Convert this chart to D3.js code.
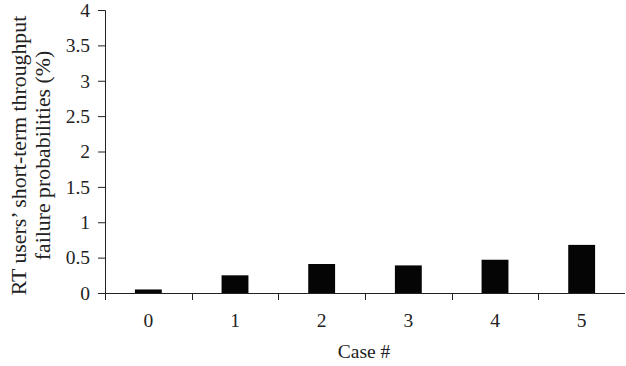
<!DOCTYPE html>
<html>
<head>
<meta charset="utf-8">
<script src="https://cdn.jsdelivr.net/npm/d3@7"></script>
<style>
  body { margin: 0; background: #fff; }
  text { font-family: "Liberation Serif", "Times New Roman", serif; fill: #222; }
</style>
</head>
<body>
<svg id="chart" width="626" height="366"></svg>
<script>
var cases = ["0", "1", "2", "3", "4", "5"];
var failProb = [0.05, 0.25, 0.41, 0.39, 0.47, 0.68];
var yTicks = [0, 0.5, 1, 1.5, 2, 2.5, 3, 3.5, 4];

var margin = {top: 10, right: 1, bottom: 73, left: 105},
  width = 626 - margin.left - margin.right,
  height = 366 - margin.top - margin.bottom;

var svg = d3.select("#chart")
  .append("g")
  .attr("transform", "translate(" + margin.left + "," + margin.top + ")");

var x = d3.scaleBand()
  .domain(cases)
  .range([0, width])
  .paddingInner(0.69)
  .paddingOuter(0.345);
var y = d3.scaleLinear()
  .domain([0, 4])
  .range([height, 0]);

// y axis
var yAxis = d3.axisLeft(y)
  .tickValues(yTicks)
  .tickFormat(function(d) { return d; })
  .tickSize(7)
  .tickPadding(8);
var gy = svg.append("g").call(yAxis);
gy.attr("font-size", null).attr("font-family", null);
gy.select(".domain").attr("d", "M0.5," + height + "V0.5H-7").attr("stroke", "#222");
gy.selectAll(".tick line").attr("stroke", "#222");
gy.selectAll("text").style("font-size", "19.5px").attr("fill", "#222");

// x axis: ticks at the boundaries of the bands
var step = x.step();
var bounds = d3.range(cases.length).map(function(i) { return i * step; });
svg.append("line")
  .attr("x1", 0).attr("x2", width)
  .attr("y1", height + 0.5).attr("y2", height + 0.5)
  .attr("stroke", "#222");
svg.selectAll(".xtick")
  .data(bounds)
  .enter().append("line")
  .attr("class", "xtick")
  .attr("x1", function(d) { return Math.round(d) + 0.5; })
  .attr("x2", function(d) { return Math.round(d) + 0.5; })
  .attr("y1", height)
  .attr("y2", height + 7)
  .attr("stroke", "#222");
svg.selectAll(".xlabel")
  .data(cases)
  .enter().append("text")
  .attr("class", "xlabel")
  .attr("x", function(d) { return x(d) + x.bandwidth() / 2; })
  .attr("y", height + 34)
  .attr("text-anchor", "middle")
  .style("font-size", "19.5px")
  .text(function(d) { return d; });

// bars
svg.selectAll(".bar")
  .data(failProb)
  .enter().append("rect")
  .attr("class", "bar")
  .attr("x", function(d, i) { return x(cases[i]); })
  .attr("y", function(d) { return y(d); })
  .attr("width", x.bandwidth())
  .attr("height", function(d) { return height - y(d); })
  .attr("fill", "#050505");

// axis titles
svg.append("text")
  .attr("x", width / 2 - 1)
  .attr("y", height + 65)
  .attr("text-anchor", "middle")
  .style("font-size", "19.5px")
  .text("Case #");

var title = svg.append("text")
  .attr("transform", "translate(" + (-margin.left) + "," + (height / 2 + 4) + ") rotate(-90)")
  .attr("text-anchor", "middle")
  .style("font-size", "21.8px");
title.append("tspan").attr("x", 0).attr("y", 26).text("RT users’ short-term throughput");
title.append("tspan").attr("x", 0).attr("y", 50).text("failure probabilities (%)");
</script>
</body>
</html>
